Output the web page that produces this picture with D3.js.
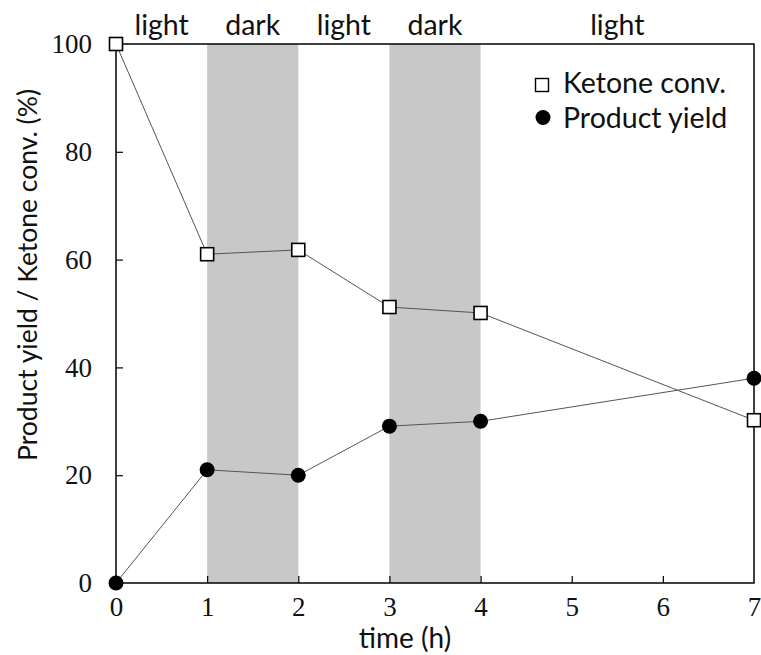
<!DOCTYPE html>
<html>
<head>
<meta charset="utf-8">
<script src="https://cdn.jsdelivr.net/npm/d3@7"></script>
<style>
  body { margin: 0; background: #fff; }
  svg text.serif { font-family: "Liberation Serif", "DejaVu Serif", serif; }
  svg text.sans  { font-family: Lato, "Open Sans", "Noto Sans", sans-serif; }
</style>
</head>
<body>
<div id="vis"></div>
<script>
/* data */
const times        = [0, 1, 2, 3, 4, 7];
const ketoneConv   = [100, 61, 61.8, 51.2, 50.1, 30.2];
const productYield = [0, 21, 20, 29.1, 30, 38];

/* light / dark periods */
const periods = [
  {label: "light", from: 0, to: 1},
  {label: "dark",  from: 1, to: 2},
  {label: "light", from: 2, to: 3},
  {label: "dark",  from: 3, to: 4},
  {label: "light", from: 4, to: 7}
];
const xTicks = [0, 1, 2, 3, 4, 5, 6, 7];
const yTicks = [0, 20, 40, 60, 80, 100];
const legendLabels = ["Ketone conv.", "Product yield"];

/* layout */
const W = 761, H = 655;
const plot = {left: 116, right: 754, top: 44, bottom: 583};

const svg = d3.select("#vis").append("svg")
    .attr("width", W).attr("height", H);

const x = d3.scaleLinear().domain([0, 7]).range([plot.left, plot.right]);
const y = d3.scaleLinear().domain([0, 100]).range([plot.bottom, plot.top]);

/* dark bands */
svg.append("g").selectAll("rect")
  .data(periods.filter(p => p.label === "dark"))
  .join("rect")
    .attr("x", d => x(d.from)).attr("width", d => x(d.to) - x(d.from))
    .attr("y", plot.top).attr("height", plot.bottom - plot.top)
    .attr("fill", "#c8c8c8");

/* period labels */
svg.append("g").selectAll("text")
  .data(periods)
  .join("text")
    .attr("class", "sans")
    .attr("x", d => (x(d.from) + x(d.to)) / 2)
    .attr("y", 35)
    .attr("text-anchor", "middle")
    .attr("font-size", 28.5)
    .attr("fill", "#111")
    .text(d => d.label);

/* axes: inward ticks */
const xAxis = svg.append("g")
    .attr("transform", `translate(0,${plot.bottom})`)
    .call(d3.axisBottom(x).tickValues(xTicks).tickSize(-7).tickPadding(14).tickFormat(d3.format("d")));
const yAxis = svg.append("g")
    .attr("transform", `translate(${plot.left},0)`)
    .call(d3.axisLeft(y).tickValues(yTicks).tickSize(-7).tickPadding(24).tickFormat(d3.format("d")));

[xAxis, yAxis].forEach(a => {
  a.select(".domain").remove();
  a.selectAll(".tick line").attr("stroke", "#000").attr("stroke-width", 1.2);
  a.selectAll(".tick text")
    .attr("class", "serif")
    .attr("font-size", 27)
    .attr("fill", "#111");
});
xAxis.selectAll(".tick").filter(d => d === 0 || d === 7).select("line").remove();
yAxis.selectAll(".tick").filter(d => d === 0 || d === 100).select("line").remove();

/* frame */
svg.append("rect")
    .attr("x", plot.left).attr("y", plot.top)
    .attr("width", plot.right - plot.left).attr("height", plot.bottom - plot.top)
    .attr("fill", "none").attr("stroke", "#000").attr("stroke-width", 1.5);

/* axis titles */
svg.append("text")
    .attr("class", "sans")
    .attr("x", 405).attr("y", 648)
    .attr("text-anchor", "middle")
    .attr("font-size", 28)
    .attr("fill", "#111")
    .text("time (h)");

svg.append("text")
    .attr("class", "sans")
    .attr("transform", "translate(37,275) rotate(-90)")
    .attr("text-anchor", "middle")
    .attr("font-size", 26.5)
    .attr("fill", "#111")
    .text("Product yield / Ketone conv. (%)");

/* lines */
const line = d3.line().x(d => x(d[0])).y(d => y(d[1]));
const ketonePts  = times.map((t, i) => [t, ketoneConv[i]]);
const productPts = times.map((t, i) => [t, productYield[i]]);

[ketonePts, productPts].forEach(pts => {
  svg.append("path")
      .attr("d", line(pts))
      .attr("fill", "none")
      .attr("stroke", "#555")
      .attr("stroke-width", 1);
});

/* markers */
const sq = 13;
svg.append("g").selectAll("rect")
  .data(ketonePts)
  .join("rect")
    .attr("x", d => x(d[0]) - sq / 2).attr("y", d => y(d[1]) - sq / 2)
    .attr("width", sq).attr("height", sq)
    .attr("fill", "#fff").attr("stroke", "#000").attr("stroke-width", 1.6);

svg.append("g").selectAll("circle")
  .data(productPts)
  .join("circle")
    .attr("cx", d => x(d[0])).attr("cy", d => y(d[1]))
    .attr("r", 7.5)
    .attr("fill", "#000");

/* legend */
const legend = svg.append("g");
legend.append("rect")
    .attr("x", 535.5).attr("y", 78.5).attr("width", 13).attr("height", 13)
    .attr("fill", "#fff").attr("stroke", "#000").attr("stroke-width", 1.4);
legend.append("circle")
    .attr("cx", 543).attr("cy", 117.5).attr("r", 7.5).attr("fill", "#000");
legend.selectAll("text")
  .data(legendLabels)
  .join("text")
    .attr("class", "sans")
    .attr("x", 563).attr("y", (d, i) => 93 + i * 35)
    .attr("font-size", 28.5)
    .attr("fill", "#111")
    .text(d => d);
</script>
</body>
</html>
